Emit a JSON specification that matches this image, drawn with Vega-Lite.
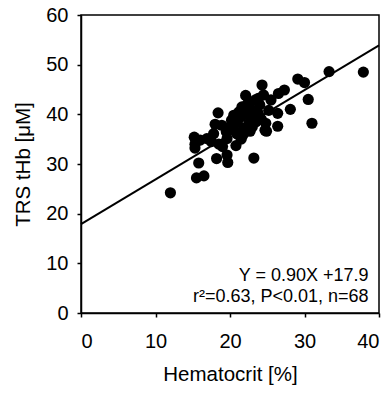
{
  "$schema": "https://vega.github.io/schema/vega-lite/v6.json",
  "width": 298,
  "height": 298,
  "autosize": "none",
  "padding": {"left": 81, "top": 15, "right": 12, "bottom": 82},
  "background": "white",
  "config": {
    "font": "Liberation Sans",
    "view": {"stroke": "black", "strokeWidth": 1.5},
    "axis": {"grid": false, "domainColor": "black", "domainWidth": 1.5, "tickColor": "black", "tickWidth": 1.5, "tickSize": 4, "labelFontSize": 20, "labelColor": "black", "titleFontSize": 20.5, "titleFontWeight": "normal", "titleColor": "black"}
  },
  "datasets": {
    "pts": [
      {"hct": 12.0, "thb": 24.2}, {"hct": 37.9, "thb": 48.5}, {"hct": 33.3, "thb": 48.6}, {"hct": 29.1, "thb": 47.1},
      {"hct": 30.0, "thb": 46.4}, {"hct": 30.5, "thb": 43.0}, {"hct": 31.0, "thb": 38.2}, {"hct": 28.1, "thb": 41.0},
      {"hct": 26.4, "thb": 40.2}, {"hct": 26.4, "thb": 37.6}, {"hct": 24.9, "thb": 36.6}, {"hct": 23.2, "thb": 31.2},
      {"hct": 24.3, "thb": 45.9}, {"hct": 27.3, "thb": 44.9}, {"hct": 26.5, "thb": 44.2}, {"hct": 25.5, "thb": 42.9},
      {"hct": 22.1, "thb": 43.8}, {"hct": 18.4, "thb": 40.3}, {"hct": 15.2, "thb": 35.4}, {"hct": 15.3, "thb": 33.2},
      {"hct": 15.8, "thb": 30.2}, {"hct": 15.5, "thb": 27.2}, {"hct": 16.5, "thb": 27.6}, {"hct": 18.2, "thb": 31.1},
      {"hct": 19.7, "thb": 30.3}, {"hct": 19.6, "thb": 31.8}, {"hct": 20.8, "thb": 33.7}, {"hct": 22.7, "thb": 36.6},
      {"hct": 16.9, "thb": 35.1}, {"hct": 17.8, "thb": 36.1}, {"hct": 18.9, "thb": 37.8}, {"hct": 19.6, "thb": 35.1},
      {"hct": 21.6, "thb": 41.5}, {"hct": 20.9, "thb": 36.1}, {"hct": 23.4, "thb": 42.9}, {"hct": 24.5, "thb": 43.9},
      {"hct": 23.8, "thb": 40.2}, {"hct": 24.7, "thb": 36.8}, {"hct": 24.0, "thb": 41.9}, {"hct": 23.1, "thb": 40.8},
      {"hct": 21.0, "thb": 38.5}, {"hct": 21.5, "thb": 39.5}, {"hct": 22.0, "thb": 40.0}, {"hct": 22.5, "thb": 38.0},
      {"hct": 20.0, "thb": 37.5}, {"hct": 20.5, "thb": 36.8}, {"hct": 21.8, "thb": 37.2}, {"hct": 22.8, "thb": 39.2},
      {"hct": 23.5, "thb": 38.5}, {"hct": 22.2, "thb": 41.8}, {"hct": 21.2, "thb": 40.5}, {"hct": 19.5, "thb": 36.5},
      {"hct": 20.2, "thb": 38.8}, {"hct": 23.0, "thb": 37.5}, {"hct": 24.2, "thb": 39.0}, {"hct": 17.5, "thb": 34.5},
      {"hct": 18.5, "thb": 34.0}, {"hct": 16.0, "thb": 34.8}, {"hct": 19.0, "thb": 33.5}, {"hct": 21.5, "thb": 35.0},
      {"hct": 22.5, "thb": 42.5}, {"hct": 25.2, "thb": 40.8}, {"hct": 23.8, "thb": 43.2}, {"hct": 20.5, "thb": 39.8},
      {"hct": 21.8, "thb": 36.0}, {"hct": 18.0, "thb": 38.0}, {"hct": 24.8, "thb": 38.2}, {"hct": 15.3, "thb": 34.0}
    ],
    "fit": [{"hct": 0, "thb": 17.9}, {"hct": 40, "thb": 53.9}],
    "notes": [
      {"hct": 38.6, "thb": 7.4, "label": "Y = 0.90X +17.9"},
      {"hct": 38.6, "thb": 3.2, "label": "r²=0.63, P<0.01, n=68"}
    ]
  },
  "layer": [
    {
      "data": {"name": "pts"},
      "mark": {"type": "circle", "color": "black", "opacity": 1, "size": 125},
      "encoding": {
        "x": {"field": "hct", "type": "quantitative", "scale": {"domain": [0, 40], "nice": false}, "axis": {"values": [0, 10, 20, 30, 40], "title": "Hematocrit [%]", "labelPadding": 14, "titlePadding": 13}},
        "y": {"field": "thb", "type": "quantitative", "scale": {"domain": [0, 60], "nice": false}, "axis": {"values": [0, 10, 20, 30, 40, 50, 60], "title": "TRS tHb [μM]", "labelPadding": 9, "titlePadding": 12}}
      }
    },
    {
      "data": {"name": "fit"},
      "mark": {"type": "line", "color": "black", "strokeWidth": 2},
      "encoding": {
        "x": {"field": "hct", "type": "quantitative"},
        "y": {"field": "thb", "type": "quantitative"}
      }
    },
    {
      "data": {"name": "notes"},
      "mark": {"type": "text", "align": "right", "baseline": "middle", "fontSize": 18, "color": "black"},
      "encoding": {
        "x": {"field": "hct", "type": "quantitative"},
        "y": {"field": "thb", "type": "quantitative"},
        "text": {"field": "label"}
      }
    }
  ]
}
